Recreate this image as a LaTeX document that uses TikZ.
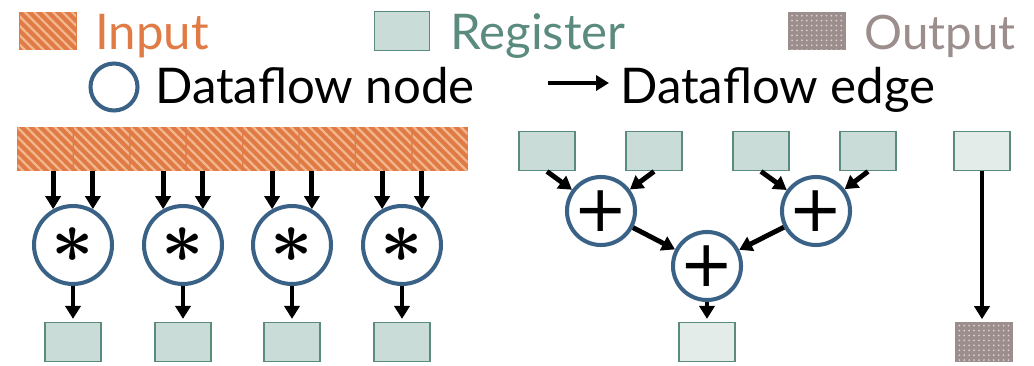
\documentclass[tikz,border=0pt]{standalone}
\usepackage{fontspec}
\setmainfont{Lato}
\newfontfamily\plusfont{DejaVu Sans}
\usetikzlibrary{arrows.meta,patterns.meta}

\definecolor{inorange}{HTML}{E07B45}
\definecolor{instripe}{HTML}{F2B78E}
\definecolor{regline}{HTML}{5B8A7E}
\definecolor{regfill}{HTML}{C9DCD7}
\definecolor{reglight}{HTML}{E3ECE9}
\definecolor{nodeblue}{HTML}{3A6186}
\definecolor{outgrey}{HTML}{9B8E8D}
\definecolor{outdot}{HTML}{DCD4D3}

\begin{document}
\begin{tikzpicture}[x=0.02cm,y=-0.02cm,
    flow/.style={-{Triangle[length=7.4pt,width=8.6pt]},line width=2.8pt},
    regbox/.style={draw=regline,fill=regfill,line width=1.1pt,minimum width=1.12cm,minimum height=0.78cm,inner sep=0pt},
    lightbox/.style={regbox,fill=reglight},
    incell/.style={draw=inorange,fill=inorange,line width=0.8pt,minimum width=1.1cm,minimum height=0.86cm,inner sep=0pt,
        postaction={pattern={Lines[angle=-45,distance=3.8pt,line width=1.3pt]},pattern color=instripe}},
    outbox/.style={draw=outgrey,fill=outgrey,line width=0.8pt,minimum width=1.12cm,minimum height=0.78cm,inner sep=0pt,
        postaction={pattern={Dots[distance=2.8pt,radius=0.55pt]},pattern color=outdot}},
    mulnode/.style={circle,draw=nodeblue,fill=white,line width=2.3pt,minimum size=1.56cm,inner sep=0pt,
        font=\fontsize{10}{10}\selectfont\boldmath},
    addnode/.style={circle,draw=nodeblue,fill=white,line width=2.3pt,minimum size=1.2cm,inner sep=0pt,
        font=\plusfont\fontsize{37}{37}\selectfont},
    legtext/.style={anchor=base west,inner sep=0pt,font=\fontsize{28}{28}\selectfont}]
    \useasboundingbox (0,0) rectangle (1034,365);

    % Legend
    \node[incell,minimum width=1.12cm,minimum height=0.74cm] (kin) at (48,31) {};
    \node[legtext,text=inorange] (lin) at (95,50) {Input};
    \node[regbox,minimum width=1.1cm] (kreg) at (402,31) {};
    \node[legtext,text=regline] (lreg) at (450,50) {Register};
    \node[outbox,minimum width=1.12cm,minimum height=0.74cm] (kout) at (817,31) {};
    \node[legtext,text=outgrey,font=\fontsize{27}{27}\selectfont] (lout) at (864,50) {Output};
    \node[circle,draw=nodeblue,line width=2.3pt,minimum size=0.94cm,inner sep=0pt] (knode) at (114,87) {};
    \node[legtext] (lnode) at (155,103) {Dataflow node};
    \coordinate (ke0) at (548,83);
    \coordinate (ke1) at (609,83);
    \draw[flow] (ke0) -- (ke1);
    \node[legtext] (ledge) at (620,103) {Dataflow edge};

    % Input bar
    \foreach \i in {1,...,8}
        \node[incell] (in\i) at ({17+56.4*(\i-0.5)},149) {};

    % Multiplications
    \foreach \i/\x in {1/73,2/183,3/292,4/402} {
        \node[mulnode] (m\i) at (\x,245) {\scalebox{4.2}{$\ast$}};
        \node[regbox] (o\i) at (\x,342) {};
        \draw[flow] (m\i.119 |- in1.south) -- (m\i.119);
        \draw[flow] (m\i.61 |- in1.south) -- (m\i.61);
        \draw[flow,shorten >=1.5pt] (m\i) -- (o\i);
    }

    % Reduction tree
    \foreach \i/\x in {1/547,2/654,3/761,4/868}
        \node[regbox] (a\i) at (\x,151) {};
    \node[addnode] (p1) at (601,211) {+};
    \node[addnode] (p2) at (816,211) {+};
    \node[addnode] (p3) at (707,266) {+};
    \node[lightbox] (s) at (707,342) {};
    \draw[flow] (a1.south) -- (p1);
    \draw[flow] (a2.south) -- (p1);
    \draw[flow] (a3.south) -- (p2);
    \draw[flow] (a4.south) -- (p2);
    \draw[flow] (p1) -- (p3);
    \draw[flow] (p2) -- (p3);
    \draw[flow,shorten >=1.5pt] (p3) -- (s);

    % Copy to output
    \node[lightbox] (b) at (982,151) {};
    \node[outbox] (y) at (984,342) {};
    \draw[flow,shorten >=1.5pt] (b) -- (b |- y.north);
\end{tikzpicture}
\end{document}
